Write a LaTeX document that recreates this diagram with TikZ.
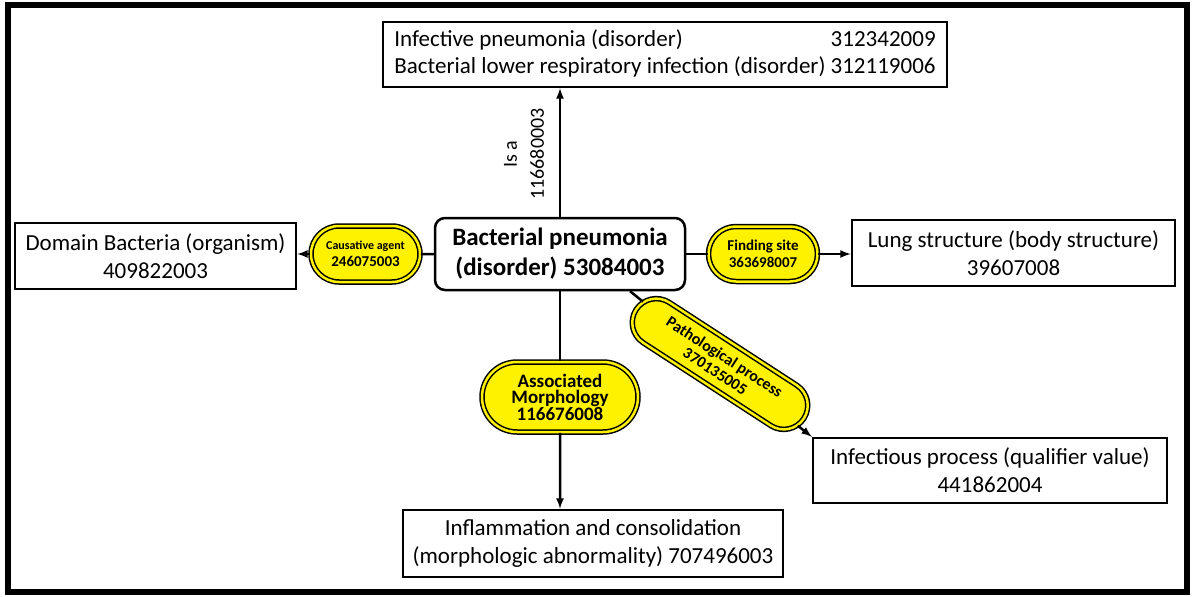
\documentclass[tikz,border=0pt]{standalone}
\usepackage{fontspec}
\setmainfont{Carlito}
\usetikzlibrary{arrows, positioning, shapes.misc}

\begin{document}
\begin{tikzpicture}[x=1pt, y=-1pt,
        every node/.style={font=\fontsize{23}{28}\selectfont},
        concept/.style={rectangle, draw, line width=2.5pt, align=center, inner sep=0pt},
        relation/.style={rounded rectangle, draw, line width=1.5pt, double=yellow, double distance=2.5pt, fill=yellow, align=center, inner sep=0pt},
        link/.style={line width=2.5pt},
        arrow/.style={line width=2.5pt, -latex}
    ]
        % Khung ngoài
        \useasboundingbox (0,0) rectangle (1195,597);
        \draw[line width=6pt] (8,4.5) rectangle (1187,592);

        % Khái niệm chính
        \node[concept, rounded corners=10pt, minimum width=250pt, minimum height=72pt, font=\bfseries\fontsize{25}{30}\selectfont] (main) at (560,254) {Bacterial pneumonia\\(disorder) 53084003};

        % Các khái niệm đích
        \node[concept, minimum width=564pt, minimum height=65pt, font=\fontsize{23}{27}\selectfont] (parent) at (665,54.5) {\begin{tabular}{@{}l@{\ }r@{}}Infective pneumonia (disorder) & 312342009\\Bacterial lower respiratory infection (disorder) & 312119006\end{tabular}};
        \node[concept, minimum width=281pt, minimum height=66pt] (organism) at (155.5,256) {Domain Bacteria (organism)\\409822003};
        \node[concept, minimum width=323pt, minimum height=66pt] (lung) at (1013.5,253) {Lung structure (body structure)\\39607008};
        \node[concept, minimum width=354pt, minimum height=65pt] (infection) at (990,470.5) {Infectious process (qualifier value)\\441862004};
        \node[concept, minimum width=380pt, minimum height=67pt] (morphology) at (593,543.5) {Inflammation and consolidation\\(morphologic abnormality) 707496003};

        % Các thuộc tính
        \node[relation, minimum width=109pt, minimum height=56pt, font=\bfseries\fontsize{15}{17}\selectfont] (causative) at (365.5,254) {{\fontsize{12}{14}\selectfont Causative agent}\\246075003};
        \node[relation, minimum width=109pt, minimum height=55pt, font=\bfseries\fontsize{15}{17}\selectfont] (finding) at (763,254) {Finding site\\363698007};
        \node[relation, minimum width=156pt, minimum height=70pt, font=\bfseries\fontsize{19}{16.5}\selectfont] (assoc) at (560,397) {Associated\\Morphology\\116676008};
        \node[relation, minimum width=200pt, minimum height=48pt, rotate=-33, font=\bfseries\fontsize{16}{17}\selectfont] (patho) at (720,364) {Pathological process\\370135005};
        \node[rotate=90, align=center, font=\fontsize{20}{27}\selectfont] (isa) at (524,154) {Is a\\116680003};

        % Các liên kết
        \draw[arrow] (main) -- (parent.south -| main);
        \draw[link] (main) -- (causative);
        \draw[arrow] (causative.west) -- (causative.west -| organism.east);
        \draw[link] (main) -- (finding);
        \draw[arrow] (finding.east) -- (finding.east -| lung.west);
        \draw[link] (main) -- (assoc);
        \draw[arrow] (assoc) -- (assoc |- morphology.north);
        \draw[link] (main.-28) -- (patho);
        \draw[arrow] (patho) -- (infection.north west);
    \end{tikzpicture}
\end{document}
